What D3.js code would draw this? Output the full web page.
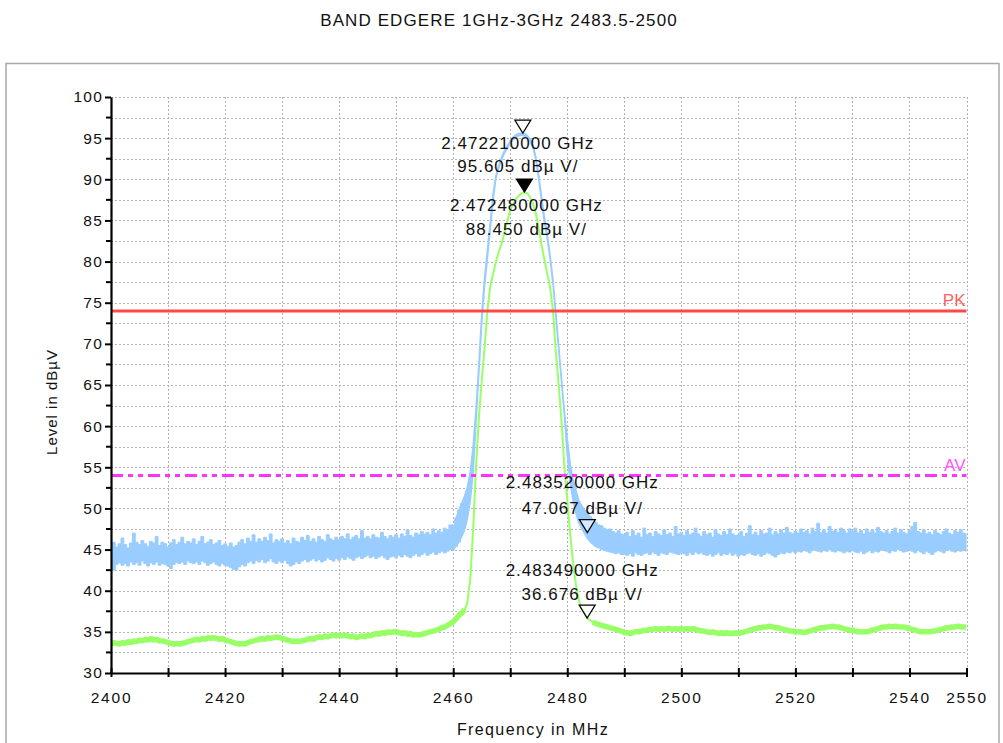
<!DOCTYPE html>
<html><head><meta charset="utf-8">
<script src="https://cdn.jsdelivr.net/npm/d3@7"></script>
<style>
body{margin:0;background:#fff;}
svg{display:block;font-family:"Liberation Sans",Arial,sans-serif;}
</style>
</head><body>
<svg id="c" width="1003" height="743"></svg>
<script>
// ---------- data ----------
const chartTitle = "BAND EDGERE 1GHz-3GHz 2483.5-2500";
const xTitle = "Frequency in MHz";
const yTitle = "Level in dBµV";
const xTickValues = [2400,2410,2420,2430,2440,2450,2460,2470,2480,2490,2500,2510,2520,2530,2540,2550];
const xTickLabels = [2400,2420,2440,2460,2480,2500,2520,2540,2550];
const yTickValues = [30,35,40,45,50,55,60,65,70,75,80,85,90,95,100];
const sweepStartMHz = 2400, sweepStepMHz = 0.5;

// peak trace (light blue): lower / upper envelope per 0.5 MHz sample
const peakLo = [
43.0,42.5,43.2,43.4,43.1,43.3,43.0,43.5,43.2,43.4,43.1,43.6,43.3,43.0,43.4,43.2,43.5,43.1,43.3,43.2,
43.0,42.7,43.2,43.4,43.3,43.5,43.2,43.6,43.4,43.3,43.5,43.2,43.6,43.4,43.1,43.3,43.5,43.2,43.0,43.3,
43.1,43.0,42.8,42.6,42.5,42.9,43.2,43.0,43.4,43.6,43.3,43.7,43.5,43.8,43.4,43.6,43.9,43.5,43.3,43.6,
43.4,43.7,43.3,43.0,43.2,43.5,43.3,43.6,43.8,43.5,43.7,43.9,43.6,43.8,43.5,43.7,44.0,43.8,43.6,43.9,
43.7,44.0,43.8,44.1,43.9,43.7,44.0,44.2,43.9,44.1,44.3,44.0,44.2,43.9,44.1,44.3,44.0,43.8,44.1,44.2,
44.0,44.3,44.1,44.4,44.2,44.0,44.3,44.5,44.2,44.4,44.6,44.3,44.5,44.7,44.4,44.6,44.8,44.6,44.8,45.0,
45.0,45.4,45.9,46.6,47.4,48.8,51.0,54.5,60.5,66.5,72.5,77.0,80.5,84.0,87.5,90.2,91.4,92.4,93.2,93.8,
94.4,94.8,95.1,95.3,95.35,95.3,95.0,94.6,93.8,92.4,90.0,87.3,84.8,82.8,80.3,77.3,73.3,69.3,65.3,61.3,
56.5,53.3,51.0,49.5,48.3,47.6,47.0,46.4,46.0,45.7,45.4,45.2,45.0,44.9,44.8,44.7,44.6,44.5,44.6,44.4,
44.4,44.3,44.5,44.2,44.6,44.4,44.3,44.5,44.6,44.4,44.7,44.5,44.3,44.6,44.5,44.4,44.7,44.6,44.5,44.4,
44.6,44.5,44.3,44.6,44.4,44.7,44.5,44.6,44.4,44.3,44.5,44.2,44.4,44.6,44.3,44.5,44.4,44.6,44.3,44.5,
44.2,44.4,44.3,44.5,44.6,44.4,44.3,44.5,44.2,44.4,44.6,44.5,44.3,44.1,44.4,44.6,44.5,44.7,44.6,44.8,
44.6,44.8,44.7,44.9,44.8,44.6,44.9,45.0,44.8,44.7,44.9,44.8,45.0,44.8,44.7,44.9,44.8,44.6,44.8,44.7,
44.9,44.7,44.6,44.8,44.5,44.7,44.9,44.6,44.8,44.7,44.9,45.0,44.8,44.6,44.9,44.8,45.0,44.9,44.7,44.8,
45.0,44.8,44.6,44.9,44.7,44.5,44.8,44.6,44.4,44.7,44.9,44.8,44.6,44.9,45.0,44.8,44.7,44.9,44.8,45.0,
44.8];
const peakHi = [
45.5,45.9,45.3,45.7,46.4,45.6,45.2,45.8,47.0,45.9,45.6,46.1,45.7,45.4,46.0,45.8,46.6,45.5,45.9,45.7,
45.3,45.8,46.2,45.6,45.9,46.5,45.7,46.0,45.8,46.3,45.6,46.0,46.6,45.7,45.9,46.2,45.6,45.8,46.1,45.5,
45.7,45.4,45.8,45.3,45.5,45.9,46.2,45.7,46.4,46.0,46.8,45.9,46.3,46.0,46.5,46.1,46.9,45.8,46.2,46.0,
46.3,45.8,46.1,45.7,46.4,46.0,45.9,46.5,46.1,46.7,46.0,46.3,45.9,46.6,46.2,46.0,46.8,46.3,46.1,46.5,
46.2,46.6,46.3,46.9,46.2,46.5,46.7,46.3,47.3,46.4,46.6,46.3,46.8,46.5,46.4,47.1,46.6,46.3,46.7,46.5,
46.8,46.4,46.9,46.6,47.4,46.7,46.5,47.0,46.8,47.2,46.9,47.1,46.8,47.5,47.0,47.3,47.1,47.6,47.4,48.0,
48.0,48.8,49.8,50.6,51.5,52.6,54.5,57.5,62.0,67.5,73.5,78.0,81.3,84.8,88.2,90.5,91.7,92.7,93.5,94.1,
94.7,95.1,95.4,95.55,95.6,95.55,95.3,94.9,94.1,92.7,90.4,87.8,85.3,83.2,80.7,77.7,73.7,69.7,65.7,61.7,
58.5,55.5,53.5,52.2,51.0,50.4,49.8,49.5,49.0,48.6,48.3,48.0,47.9,47.6,47.4,47.5,47.2,47.0,47.3,46.9,
46.8,47.1,46.6,47.3,46.7,47.0,46.5,47.6,46.8,47.0,46.6,47.2,46.9,46.7,47.4,46.8,47.0,46.6,47.8,46.9,
47.1,46.7,47.3,46.8,47.0,47.6,46.9,46.6,47.2,46.8,47.0,46.5,47.4,46.9,46.7,47.2,46.8,47.5,46.9,46.7,
46.8,47.2,46.6,47.0,47.9,46.8,47.1,46.7,47.3,46.9,47.0,47.6,46.8,47.2,46.9,47.4,47.0,47.7,47.1,46.9,
47.2,47.0,47.5,47.1,47.3,46.9,47.6,47.2,48.2,47.1,47.4,47.0,47.8,47.2,47.4,47.1,47.6,47.3,47.0,47.5,
47.2,47.6,47.0,47.3,46.9,47.5,47.1,47.4,47.0,47.7,47.2,47.0,47.3,46.9,47.2,47.6,47.0,47.4,47.1,46.9,
47.3,47.8,48.3,47.2,47.0,47.4,46.9,47.1,46.8,47.3,47.0,46.8,47.2,47.5,47.0,46.8,47.3,47.1,47.4,47.0,
46.9];
// average trace (light green), per 0.5 MHz sample
const avgLevel = [
33.5,33.7,33.6,33.5,33.7,33.6,33.8,33.7,33.9,33.8,34.0,33.9,34.1,34.0,34.2,34.0,34.1,33.9,33.9,33.8,
33.7,33.6,33.5,33.6,33.5,33.6,33.7,33.8,33.9,34.0,34.1,34.0,34.2,34.1,34.3,34.2,34.3,34.2,34.1,34.2,
34.0,33.9,33.8,33.7,33.6,33.5,33.6,33.5,33.7,33.8,33.9,34.0,34.1,34.2,34.1,34.3,34.2,34.3,34.4,34.3,
34.2,34.1,34.0,33.9,33.8,33.9,33.8,33.9,34.0,34.1,34.2,34.1,34.3,34.4,34.3,34.5,34.4,34.5,34.6,34.5,
34.6,34.5,34.6,34.5,34.4,34.5,34.3,34.4,34.5,34.4,34.6,34.5,34.7,34.8,34.7,34.9,34.8,35.0,34.9,35.0,
35.0,34.9,34.8,34.9,34.7,34.8,34.6,34.7,34.6,34.7,34.8,34.9,35.0,35.1,35.2,35.3,35.5,35.6,35.8,36.0,
36.2,36.6,37.0,37.3,37.7,38.6,41.5,47.5,55.0,61.0,65.5,69.5,74.0,77.0,78.5,80.0,81.2,82.2,83.6,85.0,
86.2,87.0,87.6,88.0,88.3,88.45,88.3,87.8,87.0,85.8,84.0,82.0,80.2,78.5,76.8,74.0,69.0,65.0,60.5,55.0,
51.0,47.0,43.5,40.8,38.9,37.9,37.3,36.7,36.4,36.2,36.0,35.9,35.8,35.7,35.6,35.5,35.4,35.3,35.2,35.1,
34.9,34.9,34.8,34.9,35.0,35.0,35.1,35.2,35.2,35.3,35.3,35.4,35.3,35.4,35.3,35.4,35.4,35.3,35.4,35.3,
35.4,35.3,35.4,35.3,35.4,35.3,35.2,35.1,35.1,35.0,34.9,35.0,34.9,34.8,34.9,34.8,34.9,34.8,34.8,34.9,
34.8,34.9,35.0,35.1,35.2,35.3,35.4,35.5,35.5,35.6,35.6,35.7,35.6,35.5,35.5,35.4,35.3,35.2,35.1,35.1,
35.0,35.0,35.0,34.9,35.0,35.1,35.2,35.3,35.4,35.5,35.5,35.6,35.6,35.7,35.6,35.6,35.5,35.4,35.3,35.2,
35.2,35.1,35.0,35.0,35.0,35.0,35.1,35.2,35.3,35.4,35.5,35.6,35.6,35.7,35.6,35.7,35.6,35.6,35.6,35.5,
35.4,35.3,35.2,35.1,35.0,35.0,35.0,35.0,35.1,35.1,35.2,35.3,35.4,35.5,35.5,35.6,35.6,35.7,35.6,35.6,
35.6];
const limitNames = ["PK","AV"];
const limitLevels = [74, 54];
const markerFreqMHz = [2472.21, 2472.48, 2483.52, 2483.49];
const markerLevels = [95.605, 88.45, 47.067, 36.676];
const markerFilled = [false, true, false, false];

// ---------- drawing ----------
const svg = d3.select("#c");
const W = 1003, H = 743;
const plot = {left:111, right:966.5, top:97, bottom:673};
const x = d3.scaleLinear().domain([2400,2550]).range([plot.left, plot.right]);
const y = d3.scaleLinear().domain([30,100]).range([plot.bottom, plot.top]);

svg.append("rect").attr("width",W).attr("height",H).attr("fill","#fff");
// outer panel
svg.append("rect").attr("x",6).attr("y",63.5).attr("width",993).attr("height",700)
  .attr("fill","none").attr("stroke","#a8a8a8").attr("stroke-width",1.5);

svg.append("text").attr("x",499).attr("y",26).attr("text-anchor","middle")
  .attr("font-size",17).attr("letter-spacing",1.1).attr("fill","#111").text(chartTitle);

// gridlines
const grid = svg.append("g").attr("stroke","#b4b4b4").attr("stroke-width",1).attr("stroke-dasharray","2,2");
xTickValues.filter(v=>v>2400).forEach(v=>{
  grid.append("line").attr("x1",Math.round(x(v))+0.5).attr("x2",Math.round(x(v))+0.5)
    .attr("y1",plot.top).attr("y2",plot.bottom);
});
d3.range(32.5,100.01,2.5).forEach(v=>{
  grid.append("line").attr("x1",plot.left).attr("x2",plot.right)
    .attr("y1",Math.round(y(v))+0.5).attr("y2",Math.round(y(v))+0.5);
});

svg.append("clipPath").attr("id","clip").append("rect")
  .attr("x",plot.left).attr("y",plot.top).attr("width",plot.right-plot.left).attr("height",plot.bottom-plot.top);
const g = svg.append("g").attr("clip-path","url(#clip)");

const freqAt = i => sweepStartMHz + i*sweepStepMHz;
const peakData = peakLo.map((lo,i)=>({f:freqAt(i), lo, hi:peakHi[i]}));
const stepArea = d3.area().curve(d3.curveStep).x(d=>x(d.f)).y0(d=>y(d.lo)).y1(d=>y(d.hi));
const linArea = d3.area().x(d=>x(d.f)).y0(d=>y(d.lo)).y1(d=>y(d.hi));
const blue = "#99ccff";
[peakData.filter(d=>d.f<=2461.5), peakData.filter(d=>d.f>=2484)].forEach(seg=>{
  g.append("path").datum(seg).attr("d",stepArea).attr("fill",blue).attr("stroke",blue).attr("stroke-width",1);
});
g.append("path").datum(peakData.filter(d=>d.f>=2460.5 && d.f<=2485)).attr("d",linArea)
  .attr("fill",blue).attr("stroke",blue).attr("stroke-width",1.6);

const avgData = avgLevel.map((v,i)=>({f:freqAt(i), v}));
const line = d3.line().x(d=>x(d.f)).y(d=>y(d.v));
g.append("path").datum(avgData).attr("d",line).attr("fill","none")
  .attr("stroke","#99ff66").attr("stroke-width",2);
[avgData.filter(d=>d.f<=2462), avgData.filter(d=>d.f>=2484.5)].forEach(seg=>{
  g.append("path").datum(seg).attr("d",line).attr("fill","none")
   .attr("stroke","#99ff66").attr("stroke-width",5.5).attr("stroke-linejoin","bevel");
});

// limit lines
const limitColors = ["#ff4848","#ff33ff"];
const limitDash = [null,"12,5,5,5,5,5"];
limitLevels.forEach((lv,i)=>{
  svg.append("line").attr("x1",plot.left).attr("x2",plot.right)
    .attr("y1",y(lv)).attr("y2",y(lv)).attr("stroke",limitColors[i]).attr("stroke-width",3)
    .attr("stroke-dasharray",limitDash[i]);
  svg.append("text").attr("x",plot.right-1).attr("y",y(lv)-5).attr("text-anchor","end")
    .attr("font-size",17).attr("fill",i===0?"#ff6060":"#ff55ff").text(limitNames[i]);
});

// axes
const xAxis = d3.axisBottom(x).tickValues(xTickValues)
  .tickFormat(v=>xTickLabels.includes(v)?String(v):"").tickSizeInner(4).tickSizeOuter(0).tickPadding(15);
const xg = svg.append("g").attr("transform",`translate(0,${plot.bottom})`).call(xAxis);
xg.select(".domain").attr("stroke","#000").attr("stroke-width",2.2);
xg.selectAll(".tick line").attr("stroke","#000").attr("stroke-width",2).attr("y1",-5);
xg.selectAll(".tick text").attr("font-size",15.5).attr("letter-spacing",1.8).attr("fill","#111")
  .attr("font-family","Liberation Sans, Arial, sans-serif");

const yAxis = d3.axisLeft(y).tickValues(yTickValues).tickFormat(d3.format("d"))
  .tickSizeInner(6).tickSizeOuter(0).tickPadding(2);
const yg = svg.append("g").attr("transform",`translate(${plot.left},0)`).call(yAxis);
yg.select(".domain").attr("stroke","#000").attr("stroke-width",2.2);
yg.selectAll(".tick line").attr("stroke","#000").attr("stroke-width",2);
yg.selectAll(".tick text").attr("font-size",15.5).attr("letter-spacing",1.2).attr("fill","#111")
  .attr("font-family","Liberation Sans, Arial, sans-serif");
// minor y ticks
d3.range(32.5,100,5).forEach(v=>{
  svg.append("line").attr("x1",plot.left-5).attr("x2",plot.left).attr("y1",y(v)).attr("y2",y(v))
    .attr("stroke","#000").attr("stroke-width",2);
});

svg.append("text").attr("x",533).attr("y",735).attr("text-anchor","middle")
  .attr("font-size",16).attr("letter-spacing",1.4).attr("fill","#111").text(xTitle);
svg.append("text").attr("transform","translate(57,402) rotate(-90)").attr("text-anchor","middle")
  .attr("font-size",15).attr("letter-spacing",1.0).attr("fill","#111").text(yTitle);

// markers
const labelOffsets = [[-5,10,33],[2,13,37],[-5,-51,-25],[-5,-48,-24]];
markerFreqMHz.forEach((f,i)=>{
  const px = x(f), py = y(markerLevels[i]);
  svg.append("path").attr("d",`M${px},${py}L${px-8},${py-13}L${px+8},${py-13}Z`)
    .attr("fill",markerFilled[i]?"#000":"#fff").attr("fill-opacity",markerFilled[i]?1:0.6)
    .attr("stroke","#000").attr("stroke-width",1.2);
  const o = labelOffsets[i];
  svg.append("text").attr("x",px+o[0]).attr("y",py+o[1]).attr("dy","0.36em").attr("text-anchor","middle")
    .attr("font-size",17).attr("letter-spacing",1.0).attr("fill","#111")
    .text((f/1000).toFixed(9)+" GHz");
  svg.append("text").attr("x",px+o[0]).attr("y",py+o[2]).attr("dy","0.36em").attr("text-anchor","middle")
    .attr("font-size",17).attr("letter-spacing",1.0).attr("fill","#111")
    .text(markerLevels[i].toFixed(3)+" dBµ V/");
});
</script>
</body></html>
